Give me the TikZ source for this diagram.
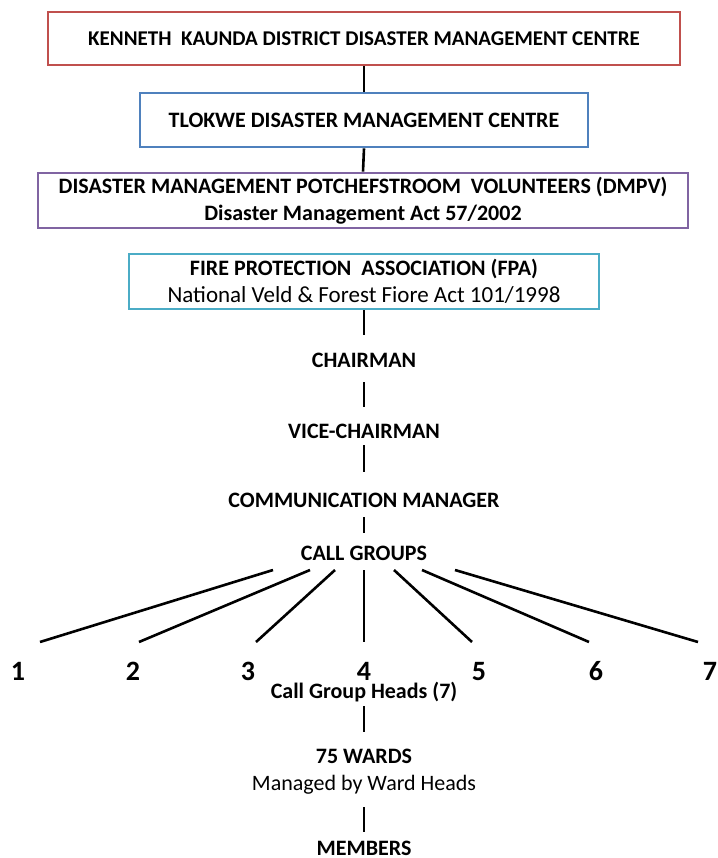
\documentclass[tikz,border=0pt]{standalone}
\usepackage{fontspec}
\setmainfont{Carlito}
\definecolor{kred}{RGB}{192,80,77}
\definecolor{tblue}{RGB}{79,129,189}
\definecolor{dpurple}{RGB}{128,100,162}
\definecolor{fcyan}{RGB}{75,172,198}
\begin{document}
\begin{tikzpicture}[x=1pt,y=-1pt,
  box/.style={draw, line width=2.9pt, fill=white, align=center, inner sep=0pt,
    font=\bfseries\fontsize{22}{27}\selectfont},
  lbl/.style={font=\bfseries\fontsize{22}{27}\selectfont, inner sep=0pt, anchor=base},
  lblr/.style={font=\fontsize{22}{27}\selectfont, inner sep=0pt, anchor=base},
  num/.style={font=\bfseries\fontsize{28}{30}\selectfont, inner sep=0pt, anchor=base},
  conn/.style={line width=2.6pt, black}]
\useasboundingbox (0,0) rectangle (717,858);

\node[box, draw=kred, minimum width=632pt, minimum height=53pt,
  font=\bfseries\fontsize{21}{27}\selectfont] (kk) at (364,38.5)
  {KENNETH\ \ KAUNDA DISTRICT DISASTER MANAGEMENT CENTRE};
\node[box, draw=tblue, minimum width=448pt, minimum height=54pt] (tl) at (364,120)
  {TLOKWE DISASTER MANAGEMENT CENTRE};
\node[box, draw=dpurple, minimum width=650pt, minimum height=55pt] (dm) at (363,200.5)
  {DISASTER MANAGEMENT POTCHEFSTROOM\ \ VOLUNTEERS (DMPV)\\Disaster Management Act 57/2002};
\node[box, draw=fcyan, minimum width=470pt, minimum height=55pt] (fpa) at (364,281.5)
  {FIRE PROTECTION\ \ ASSOCIATION (FPA)\\{\mdseries\fontsize{23}{27}\selectfont National Veld \& Forest Fiore Act 101/1998}};

\node[lbl] (chair) at (364,367) {CHAIRMAN};
\node[lbl] (vice) at (364,438) {VICE-CHAIRMAN};
\node[lbl] (comm) at (364,507) {COMMUNICATION MANAGER};
\node[lbl] (call) at (364,560) {CALL GROUPS};

\node[num] (n1) at (18,680) {1};
\node[num] (n2) at (133,680) {2};
\node[num] (n3) at (248,680) {3};
\node[num] (n4) at (364,680) {4};
\node[num] (n5) at (479,680) {5};
\node[num] (n6) at (596,680) {6};
\node[num] (n7) at (710,680) {7};

\node[lbl] (heads) at (364,698) {Call Group Heads (7)};
\node[lbl] (wards) at (364,763) {75 WARDS};
\node[lblr] (managed) at (364,790) {Managed by Ward Heads};
\node[lbl] (members) at (364,855) {MEMBERS};

\draw[conn] (kk.south) -- (tl.north);
\draw[conn] (tl.south) -- (dm.north);
\draw[conn] (fpa.south) -- (364,335);
\draw[conn] (364,382) -- (364,407);
\draw[conn] (364,445) -- (364,472);
\draw[conn] (364,517) -- (364,533);

\coordinate (t1) at (273,570); \coordinate (b1) at (40,642);
\coordinate (t2) at (310,570); \coordinate (b2) at (139,642);
\coordinate (t3) at (335,570); \coordinate (b3) at (256,642);
\coordinate (t4) at (364,570); \coordinate (b4) at (364,642);
\coordinate (t5) at (394,570); \coordinate (b5) at (472,642);
\coordinate (t6) at (422,570); \coordinate (b6) at (589,642);
\coordinate (t7) at (455,570); \coordinate (b7) at (698,642);
\foreach \i in {1,...,7} { \draw[conn] (t\i) -- (b\i); }

\draw[conn] (364,706) -- (364,732);
\draw[conn] (364,807) -- (364,832);
\end{tikzpicture}
\end{document}
